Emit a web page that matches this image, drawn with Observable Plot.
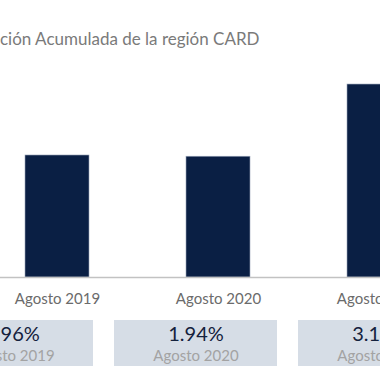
<!DOCTYPE html>
<html>
<head>
<meta charset="utf-8">
<script src="https://cdn.jsdelivr.net/npm/d3@7"></script>
<script src="https://cdn.jsdelivr.net/npm/@observablehq/plot@0.6"></script>
<style>
  html, body { margin: 0; padding: 0; background: #fff; overflow: hidden; width: 380px; height: 380px; }
  #wrap { position: relative; width: 380px; height: 380px; overflow: hidden; font-family: Lato, "Open Sans", sans-serif; }
  #title { position: absolute; top: 29px; white-space: nowrap; font-size: 17px; line-height: 20px; color: #7a7a7a; }
  #chart { position: absolute; top: 60px; left: -100px; width: 640px; }
  #boxes { position: absolute; top: 320px; left: -100px; width: 640px; }
  svg { display: block; max-width: none !important; }
</style>
</head>
<body>
<div id="wrap">
  <div id="title">Inflación Acumulada de la región CARD</div>
  <div id="chart"></div>
  <div id="boxes"></div>
</div>
<script>
const categories = ["Agosto 2019", "Agosto 2020", "Agosto 2021"];
const values = [1.96, 1.94, 3.10];
const valueLabels = ["1.96%", "1.94%", "3.10%"];

const data = categories.map((c, i) => ({ category: c, value: values[i], label: valueLabels[i] }));

// The reference is cropped so only "ción ..." of the title is visible
const ctx = document.createElement("canvas").getContext("2d");
ctx.font = "17px Lato";
document.getElementById("title").style.left = (-ctx.measureText("Infla").width) + "px";

const chart = Plot.plot({
  width: 640,
  height: 260,
  marginLeft: 27,
  marginRight: 31.5,
  marginTop: 5.35,
  marginBottom: 43,
  style: { fontFamily: "Lato, sans-serif", background: "transparent" },
  x: { domain: categories, paddingInner: 0.6, paddingOuter: 0.6, label: null, tickSize: 0, tickPadding: 16 },
  y: { domain: [0, 3.4], axis: null },
  marks: [
    Plot.barY(data, { x: "category", y: "value", fill: "#0a1f44", stroke: "#9aa6ba", strokeWidth: 0.6 }),
    Plot.ruleY([0], { stroke: "#c2c2c2", strokeWidth: 1.6 }),
    Plot.axisX({ fontSize: 15, color: "#6b6b6b", tickSize: 0, tickPadding: 16, label: null })
  ]
});
document.getElementById("chart").appendChild(chart);

const boxes = Plot.plot({
  width: 640,
  height: 46,
  marginLeft: 29,
  marginRight: 77,
  marginTop: 0,
  marginBottom: 0,
  style: { fontFamily: "Lato, sans-serif", background: "transparent" },
  x: { domain: categories, paddingInner: 0.1135, paddingOuter: 0, axis: null },
  marks: [
    Plot.cell(data, { x: "category", fill: "#d6dde6" }),
    Plot.text(data, { x: "category", text: "label", dy: -9, fontSize: 20, fill: "#14213d" }),
    Plot.text(data, { x: "category", text: "category", dy: 13, fontSize: 15, fill: "#a3a3a3" })
  ]
});
document.getElementById("boxes").appendChild(boxes);
</script>
</body>
</html>
